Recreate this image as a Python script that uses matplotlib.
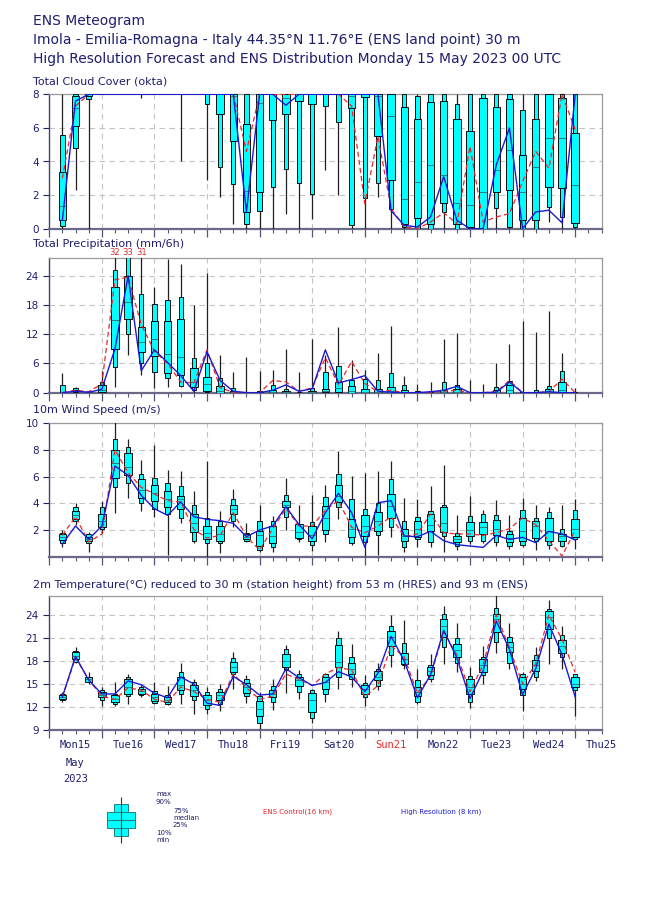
import matplotlib
matplotlib.use('Agg')
import matplotlib.pyplot as plt
import numpy as np
from matplotlib.ticker import FixedLocator

NAVY = '#1e1e6e'
CYAN = '#00ffff'

# forecast steps (hours from Mon 15 May 2023 00 UTC)
steps = np.arange(6, 246, 6)
day_names = ['Mon15', 'Tue16', 'Wed17', 'Thu18', 'Fri19', 'Sat20', 'Sun21',
             'Mon22', 'Tue23', 'Wed24', 'Thu25']

# ---------------- Total cloud cover (okta) ----------------
cc_min = [0, 2.3, 0, 8, 8, 8, 7.8, 8, 8, 4.0, 8, 2.9, 1.9, 0.3, 0, 0, 0, 0.87, 0, 0.6,
          3.5, 2.0, 0, 0, 1.9, 0, 0, 0, 0, 0, 0, 0, 0, 0, 0, 0, 0, 0.4, 0, 0]
cc_p10 = [0.15, 4.8, 7.75, 8, 8, 8, 8, 8, 8, 8, 8, 7.4, 3.65, 2.65, 0.3, 1.05, 2.5, 3.55, 2.75, 2.05,
          7.3, 6.35, 0.2, 1.85, 2.7, 1.15, 0.1, 0, 0, 1.0, 0, 0, 0, 1.25, 0.1, 0, 0, 1.3, 0.7, 0.1]
cc_p25 = [0.5, 6.1, 7.9, 8, 8, 8, 8, 8, 8, 8, 8, 8, 6.8, 5.2, 1.0, 2.2, 6.5, 6.8, 7.6, 7.4,
          8, 8, 7.2, 7.85, 5.5, 2.9, 0.3, 0.65, 0.3, 1.5, 0.3, 0.1, 0, 2.2, 2.3, 0.5, 0.5, 2.5, 2.4, 0.35]
cc_p50 = [1.35, 7.2, 8, 8, 8, 8, 8, 8, 8, 8, 8, 8, 8, 7.9, 2.25, 7.5, 8, 7.8, 8, 8,
          8, 8, 7.9, 8, 7.9, 6.7, 1.75, 2.8, 3.8, 3.2, 1.5, 1.4, 2.2, 3.5, 4.7, 2.2, 3.7, 5.4, 5.4, 2.6]
cc_p75 = [3.4, 7.9, 8, 8, 8, 8, 8, 8, 8, 8, 8, 8, 8, 8, 6.25, 8, 8, 8, 8, 8,
          8, 8, 8, 8, 8, 8, 7.25, 6.55, 7.55, 7.6, 6.5, 5.8, 7.8, 7.25, 7.7, 4.4, 6.5, 8, 7.8, 5.7]
cc_p90 = [5.6, 8, 8, 8, 8, 8, 8, 8, 8, 8, 8, 8, 8, 8, 8, 8, 8, 8, 8, 8,
          8, 8, 8, 8, 8, 8, 8, 7.9, 8, 8, 7.4, 8, 8, 8, 8, 7.05, 8, 8, 8, 8]
cc_max = [8] * 40
cc_hres = [0.5, 7.6, 8, 8, 8, 8, 8, 8, 8, 8, 8, 8, 8, 8, 1.0, 8, 8, 7.35, 8, 8,
           8, 8, 8, 8, 8, 1.07, 0.2, 0.1, 0.7, 3.1, 0.5, 0, 0, 3.8, 6.0, 0, 1.0, 1.1, 0.35, 8]
cc_ctrl = [3.0, 7.3, 8, 8, 8, 8, 8, 8, 8, 8, 8, 8, 8, 8, 4.6, 8, 8, 8, 8, 8,
           8, 8, 7.3, 1.5, 5.5, 1.2, 0.1, 0.0, 0.4, 0.95, 0.3, 4.9, 0.4, 0.7, 0.9, 2.8, 4.6, 3.6, 8, 5.9]

# ---------------- Total precipitation (mm/6h) ----------------
tp_min = [0, 0, 0, 0, 1.2, 7.7, 3.6, 0.9, 1.2, 1.1, 0, 0, 0, 0, 0, 0, 0, 0, 0, 0,
          0, 0, 0, 0, 0, 0, 0, 0, 0, 0, 0, 0, 0, 0, 0, 0, 0, 0, 0, 0]
tp_p10 = [0, 0.1, 0, 0.1, 5.3, 12.0, 6.0, 4.2, 3.1, 1.4, 0.5, 0.1, 0, 0, 0, 0, 0, 0, 0, 0,
          0, 0, 0, 0, 0, 0, 0, 0, 0, 0, 0, 0, 0, 0, 0, 0, 0, 0, 0, 0]
tp_p25 = [0, 0.3, 0, 0.2, 9.0, 15.2, 8.3, 7.5, 4.1, 3.6, 1.1, 0.4, 0, 0, 0, 0, 0, 0, 0, 0,
          0.05, 0.2, 0, 0, 0, 0, 0, 0, 0, 0, 0, 0, 0, 0, 0, 0, 0, 0, 0.1, 0]
tp_p50 = [0, 0.4, 0.05, 0.6, 14.9, 18.7, 10.5, 11.0, 7.9, 7.4, 2.3, 1.7, 0.4, 0.1, 0, 0, 0.1, 0.1, 0, 0.1,
          0.3, 0.9, 0.3, 0.2, 0.2, 0.3, 0.1, 0, 0, 0.1, 0.2, 0, 0, 0.1, 0.6, 0, 0, 0.2, 0.6, 0]
tp_p75 = [0, 0.6, 0.1, 1.6, 21.7, 23.9, 13.4, 14.8, 14.8, 15.2, 5.1, 3.2, 1.4, 0.3, 0, 0.1, 0.5, 0.4, 0, 0.3,
          0.7, 2.3, 1.4, 0.7, 0.8, 1.1, 0.5, 0.1, 0, 0.5, 0.7, 0, 0, 0.5, 1.5, 0, 0.1, 0.7, 2.3, 0]
tp_p90 = [1.5, 0.9, 0.15, 2.3, 25.3, 28.5, 20.2, 18.2, 19.1, 19.7, 7.2, 6.0, 3.1, 1.0, 0.05, 0.4, 1.5, 0.7, 0.05, 1.0,
          4.3, 5.5, 2.6, 2.9, 2.7, 4.1, 1.5, 0.4, 0.05, 2.3, 1.5, 0.05, 0.05, 1.1, 2.5, 0.05, 0.5, 1.4, 4.4, 0.05]
tp_max = [4.1, 1.1, 0.3, 4.4, 32, 33, 31, 21.7, 27.4, 26.4, 18.0, 24.5, 7.7, 4.2, 7.4, 4.4, 4.6, 9.0, 4.3, 11.1,
          7.7, 13.4, 6.7, 4.6, 8.1, 13.7, 3.4, 1.7, 2.3, 11.1, 12.2, 2.6, 1.7, 6.2, 10.0, 14.7, 12.5, 16.8, 8.1, 1.0]
tp_hres = [0, 0.3, 0.1, 0.7, 9.0, 24.0, 4.5, 8.8, 6.2, 3.5, 0.3, 8.4, 2.5, 0.3, 0, 0, 0.5, 1.6, 0.3, 0.8,
           8.8, 2.0, 2.7, 3.5, 0.3, 0.1, 0, 0, 0.2, 0.5, 1.3, 0, 0, 0.1, 2.2, 0, 0, 0.2, 0, 0]
tp_ctrl = [0, 0.5, 0.2, 1.8, 23.2, 23.7, 14.0, 8.5, 6.0, 2.2, 2.0, 8.8, 1.0, 0.1, 0, 0, 2.5, 2.2, 0.3, 1.0,
           7.2, 1.6, 6.4, 1.9, 0.2, 0.5, 0, 0, 0.1, 0.3, 0.5, 0, 0, 0.2, 2.5, 0, 0, 0.2, 2.8, 0]

# ---------------- 10m wind speed (m/s) ----------------
ws_min = [0.75, 2.4, 0.35, 1.8, 3.25, 4.4, 3.4, 3.0, 0.1, 2.55, 1.0, 0, 0.25, 2.2, 1.1, 0.35, 0.35, 2.0, 1.1, 0.45,
          1.1, 2.8, 0.9, 0.05, 0.1, 1.5, 0.35, 0.75, 0.7, 0.35, 0.5, 0.95, 1.05, 0.8, 0.55, 0.7, 0.5, 0.55, 0.7, 0.6]
ws_p10 = [1.0, 2.7, 1.05, 2.05, 5.25, 5.5, 4.0, 3.6, 3.2, 2.9, 1.2, 1.0, 1.05, 2.7, 1.2, 0.5, 0.7, 3.0, 1.3, 0.9,
          1.7, 3.7, 1.05, 1.1, 1.6, 2.2, 0.7, 1.3, 1.1, 1.55, 0.8, 1.2, 1.2, 1.1, 0.8, 0.9, 1.2, 0.9, 0.8, 1.35]
ws_p25 = [1.25, 2.85, 1.2, 2.2, 5.9, 6.1, 4.4, 4.2, 3.75, 3.55, 1.85, 1.35, 1.2, 3.2, 1.3, 0.8, 1.0, 3.7, 1.4, 1.2,
          2.0, 4.1, 1.5, 1.55, 1.9, 2.9, 1.2, 1.5, 1.9, 1.85, 1.1, 1.55, 1.7, 1.6, 1.1, 1.2, 1.4, 1.2, 1.2, 1.5]
ws_p50 = [1.5, 3.1, 1.35, 2.7, 7.0, 6.7, 5.0, 4.75, 4.3, 4.3, 2.5, 1.8, 1.7, 3.55, 1.5, 1.6, 1.55, 3.85, 1.85, 1.6,
          2.9, 4.55, 2.05, 2.3, 2.7, 3.8, 1.55, 2.05, 2.4, 2.55, 1.35, 2.0, 2.2, 2.05, 1.4, 1.9, 2.3, 1.9, 1.55, 2.1]
ws_p75 = [1.7, 3.4, 1.5, 3.2, 8.0, 7.8, 5.8, 5.4, 4.9, 4.55, 3.2, 2.3, 2.3, 3.9, 1.7, 1.95, 2.3, 4.2, 2.45, 2.3,
          3.8, 5.4, 2.85, 3.1, 3.35, 4.7, 2.05, 2.7, 3.2, 3.7, 1.55, 2.6, 2.6, 2.75, 1.7, 2.9, 2.7, 2.9, 1.7, 2.85]
ws_p90 = [1.8, 3.7, 1.7, 3.7, 8.8, 8.2, 6.2, 5.9, 5.5, 5.3, 3.85, 2.9, 2.7, 4.3, 1.8, 2.7, 2.7, 4.6, 2.45, 2.6,
          4.5, 6.2, 4.35, 3.55, 4.05, 5.8, 2.7, 3.0, 3.4, 3.85, 1.8, 3.05, 3.2, 3.1, 1.9, 3.5, 2.9, 3.35, 2.05, 3.5]
ws_max = [2.0, 4.0, 1.85, 4.2, 10.1, 8.85, 7.25, 8.35, 6.5, 6.4, 4.9, 7.2, 3.4, 5.1, 2.55, 3.9, 3.05, 5.9, 3.85, 4.6,
          5.35, 7.9, 6.05, 6.25, 6.4, 7.15, 4.4, 4.35, 5.3, 6.9, 3.1, 4.55, 3.5, 4.25, 3.1, 4.4, 3.9, 3.7, 3.9, 4.35]
ws_hres = [0.95, 2.3, 1.3, 2.3, 6.8, 6.1, 4.6, 3.6, 3.1, 4.1, 3.0, 2.8, 2.7, 2.5, 1.5, 2.0, 2.3, 3.75, 2.4, 1.35,
           3.3, 4.75, 3.3, 0.7, 4.05, 4.2, 1.55, 1.5, 1.9, 1.2, 0.9, 0.8, 0.7, 1.6, 1.3, 1.45, 1.05, 1.9, 1.7, 1.25]
ws_ctrl = [1.6, 3.0, 1.1, 1.7, 8.0, 6.3, 5.2, 4.7, 4.2, 4.1, 2.05, 1.4, 1.6, 3.3, 1.5, 0.5, 2.1, 3.6, 2.3, 2.3,
           3.5, 4.2, 2.2, 1.8, 2.3, 3.0, 1.5, 1.7, 3.2, 1.8, 1.7, 1.7, 1.6, 1.8, 2.1, 2.9, 2.4, 1.2, 0.05, 2.0]

# ---------------- 2m temperature (deg C) ----------------
t2_min = [12.6, 17.7, 15.05, 12.1, 12.1, 12.45, 13.25, 12.45, 12.25, 12.35, 11.15, 11.15, 11.5, 14.3, 12.55, 9.15,
          11.55, 13.85, 13.1, 9.85, 12.65, 14.4, 14.55, 12.1, 14.2, 17.25, 17.0, 12.35, 15.3, 17.6, 16.6, 11.9,
          15.0, 19.0, 16.9, 11.5, 15.4, 17.6, 16.9, 10.8]
t2_p10 = [12.95, 17.9, 15.2, 12.9, 12.45, 13.4, 13.55, 12.55, 12.35, 13.75, 12.95, 11.8, 12.45, 16.3, 13.4, 9.9,
          12.65, 16.8, 13.95, 10.6, 13.65, 15.85, 15.7, 13.3, 14.7, 18.75, 17.45, 12.65, 15.6, 19.85, 17.75, 12.65,
          16.15, 20.5, 17.75, 13.55, 15.95, 20.95, 18.55, 14.2]
t2_p25 = [13.1, 18.2, 15.3, 13.25, 12.65, 13.75, 13.75, 12.8, 12.65, 14.2, 13.4, 12.3, 12.9, 16.6, 13.85, 10.8,
          13.25, 17.25, 14.7, 11.35, 14.3, 17.25, 16.3, 13.75, 15.5, 19.95, 17.6, 13.4, 16.15, 21.15, 18.45, 13.75,
          16.6, 21.8, 19.1, 14.3, 16.7, 22.1, 19.0, 14.55]
t2_p50 = [13.3, 18.65, 15.6, 13.55, 13.1, 14.55, 14.05, 13.3, 12.95, 14.85, 14.2, 12.95, 13.55, 17.25, 14.6, 11.8,
          13.75, 18.0, 15.5, 12.9, 15.3, 17.9, 17.0, 14.3, 15.95, 21.1, 18.25, 13.95, 16.7, 22.5, 19.4, 14.6,
          17.45, 23.45, 19.85, 15.05, 17.45, 23.7, 19.95, 15.05]
t2_p75 = [13.5, 19.1, 15.85, 14.0, 13.5, 15.6, 14.35, 13.75, 13.3, 15.85, 14.85, 13.6, 14.0, 17.9, 15.15, 12.8,
          14.2, 18.9, 15.95, 13.85, 15.85, 20.1, 17.75, 14.85, 16.7, 21.95, 19.0, 14.55, 17.15, 23.45, 20.2, 15.6,
          18.2, 24.15, 20.5, 15.85, 18.1, 24.45, 20.7, 15.85]
t2_p90 = [13.7, 19.35, 15.95, 14.2, 13.75, 15.95, 14.55, 14.1, 13.55, 16.6, 15.3, 14.0, 14.3, 18.4, 15.6, 13.4,
          14.7, 19.5, 16.25, 14.2, 16.25, 20.95, 18.45, 15.15, 16.9, 22.5, 20.4, 15.5, 17.45, 24.15, 20.95, 16.0,
          18.55, 24.9, 21.1, 16.3, 18.75, 24.75, 21.4, 16.3]
t2_max = [14.0, 19.85, 16.6, 14.55, 15.3, 16.35, 14.85, 15.3, 14.7, 17.7, 15.7, 14.6, 15.05, 19.2, 16.15, 14.0,
          15.6, 20.05, 16.8, 14.4, 16.45, 21.95, 20.15, 16.15, 17.7, 24.0, 23.35, 16.9, 18.9, 25.2, 22.9, 17.15,
          19.95, 26.6, 23.0, 16.6, 19.85, 25.95, 22.55, 16.15]
t2_hres = [13.3, 18.6, 15.5, 13.7, 13.7, 15.4, 14.9, 13.8, 13.2, 15.9, 15.0, 12.5, 12.2, 16.0, 14.9, 13.55,
           13.7, 17.0, 15.8, 14.8, 15.2, 16.6, 15.9, 14.0, 16.4, 21.2, 18.0, 13.2, 16.2, 22.0, 18.4, 13.1,
           16.7, 23.2, 19.5, 13.6, 17.0, 22.8, 18.8, 13.3]
t2_ctrl = [13.3, 18.4, 15.6, 13.4, 13.0, 14.5, 14.2, 13.0, 12.6, 14.6, 14.0, 13.0, 12.6, 16.3, 14.5, 13.0,
           13.4, 16.3, 15.6, 14.8, 16.3, 17.15, 16.8, 13.3, 14.8, 20.0, 18.5, 13.8, 16.0, 21.8, 18.8, 14.0,
           17.5, 24.0, 19.7, 15.0, 17.6, 24.0, 20.8, 16.5]

W = 650.0
H = 916.0
fig = plt.figure(figsize=(6.5, 9.16), dpi=100)


def px_axes(top, bottom, left=49.2, right=601.5):
    return fig.add_axes([left / W, 1 - bottom / H, (right - left) / W, (bottom - top) / H])


def draw_panel(ax, mn, p10, p25, p50, p75, p90, mx, hres, ctrl, ylim, yticks):
    mn, p10, p25, p50, p75, p90, mx = [np.asarray(a, float) for a in (mn, p10, p25, p50, p75, p90, mx)]
    ax.set_xlim(0, 252)
    ax.set_ylim(*ylim)
    ax.vlines(steps, mn, mx, color='#202020', lw=0.9, zorder=3)
    ax.bar(steps, p90 - p10, bottom=p10, width=2.0, color=CYAN, edgecolor='#101010', lw=0.7, zorder=4)
    ax.bar(steps, p75 - p25, bottom=p25, width=3.4, color=CYAN, edgecolor='#101010', lw=0.7, zorder=5)
    ax.hlines(p50, steps - 1.7, steps + 1.7, color='#2a6a6a', lw=0.6, zorder=6)
    ax.plot(steps, ctrl, color='#e8262a', ls=(0, (4, 2.5)), lw=0.9, zorder=7)
    ax.plot(steps, hres, color='#1a1ad6', lw=1.0, zorder=8)
    ax.yaxis.set_major_locator(FixedLocator(yticks))
    ax.xaxis.set_major_locator(FixedLocator(np.arange(0, 264, 24)))
    ax.xaxis.set_minor_locator(FixedLocator(np.arange(0, 258, 6)))
    ax.grid(True, axis='both', which='major', color='#c4c4c4', ls=(0, (5, 4)), lw=0.8, zorder=0)
    ax.set_axisbelow(True)
    ax.tick_params(axis='y', labelsize=7.5, labelcolor=NAVY, color=NAVY, length=4, width=0.8)
    ax.tick_params(axis='x', which='major', length=6, width=0.9, color='#555577', labelbottom=False)
    ax.tick_params(axis='x', which='minor', length=3, width=0.8, color='#555577')
    for s in ('top', 'right'):
        ax.spines[s].set_color('#9a9a9a')
        ax.spines[s].set_linewidth(0.9)
    ax.spines['left'].set_color('#444466')
    ax.spines['left'].set_linewidth(1.0)
    ax.spines['bottom'].set_color('#6a6a88')
    ax.spines['bottom'].set_linewidth(1.6)


ax1 = px_axes(94.3, 228.7)
draw_panel(ax1, cc_min, cc_p10, cc_p25, cc_p50, cc_p75, cc_p90, cc_max, cc_hres, cc_ctrl,
           (0, 8), [0, 2, 4, 6, 8])
ax2 = px_axes(258.3, 392.7)
draw_panel(ax2, tp_min, tp_p10, tp_p25, tp_p50, tp_p75, tp_p90, tp_max, tp_hres, tp_ctrl,
           (0, 27.6), [0, 6, 12, 18, 24])
ax3 = px_axes(423.3, 556.7)
draw_panel(ax3, ws_min, ws_p10, ws_p25, ws_p50, ws_p75, ws_p90, ws_max, ws_hres, ws_ctrl,
           (0, 10), [2, 4, 6, 8, 10])
ax4 = px_axes(595.7, 730.0)
draw_panel(ax4, t2_min, t2_p10, t2_p25, t2_p50, t2_p75, t2_p90, t2_max, t2_hres, t2_ctrl,
           (9, 26.5), [9, 12, 15, 18, 21, 24])

# values above the precipitation axis
top = ax2.get_ylim()[1]
for s, v in zip(steps, tp_max):
    if v > top:
        ax2.text(s, 1.045, f'{v:.0f}', transform=ax2.get_xaxis_transform(), color='#e8262a',
                 fontsize=6, ha='center', va='center', clip_on=False)

# day labels
for k, name in enumerate(day_names):
    col = '#e8262a' if name.startswith('Sun') else NAVY
    ax4.text(12 + 24 * k, -0.115, name, transform=ax4.get_xaxis_transform(), ha='center',
             va='center', fontsize=7.5, family='DejaVu Sans Mono', color=col, clip_on=False)
ax4.text(12, -0.245, 'May', transform=ax4.get_xaxis_transform(), ha='center', va='center',
         fontsize=7.5, family='DejaVu Sans Mono', color=NAVY, clip_on=False)
ax4.text(12, -0.365, '2023', transform=ax4.get_xaxis_transform(), ha='center', va='center',
         fontsize=7.5, family='DejaVu Sans Mono', color=NAVY, clip_on=False)

# header
header = ['ENS Meteogram',
          'Imola - Emilia-Romagna - Italy 44.35°N 11.76°E (ENS land point) 30 m',
          'High Resolution Forecast and ENS Distribution Monday 15 May 2023 00 UTC']
for yy, line in zip([21, 40, 59], header):
    fig.text(33 / W, 1 - yy / H, line, fontsize=10, color=NAVY, ha='left', va='center')

titles = [(82, 'Total Cloud Cover (okta)'),
          (243.5, 'Total Precipitation (mm/6h)'),
          (410, '10m Wind Speed (m/s)'),
          (585, '2m Temperature(°C) reduced to 30 m (station height) from 53 m (HRES) and 93 m (ENS)')]
for yy, t in titles:
    fig.text(33 / W, 1 - yy / H, t, fontsize=8, color=NAVY, ha='left', va='center')

# legend
lg = fig.add_axes([0, 0, 1, 1], zorder=-1)
lg.set_xlim(0, W)
lg.set_ylim(H, 0)
lg.axis('off')
lg.vlines(121, 797, 843, color='#333333', lw=0.8)
lg.bar(121, 32, bottom=804, width=14, color=CYAN, edgecolor='#208080', lw=0.7)
lg.bar(121, 16, bottom=812, width=28, color=CYAN, edgecolor='#208080', lw=0.7)
lg.hlines(820, 107, 135, color='#208080', lw=0.8)
for (xx, yy, t) in [(156, 794, 'max'), (156, 802, '90%'), (173, 811, '75%'), (173, 818, 'median'),
                    (173, 825, '25%'), (156, 833, '10%'), (156, 840, 'min')]:
    lg.text(xx, yy, t, fontsize=5, color=NAVY, ha='left', va='center')
lg.text(263, 812, 'ENS Control(16 km)', fontsize=5, color='#e8262a', ha='left', va='center')
lg.text(401, 812, 'High Resolution (8 km)', fontsize=5, color='#2020d0', ha='left', va='center')

fig.savefig('out.png', dpi=100)
